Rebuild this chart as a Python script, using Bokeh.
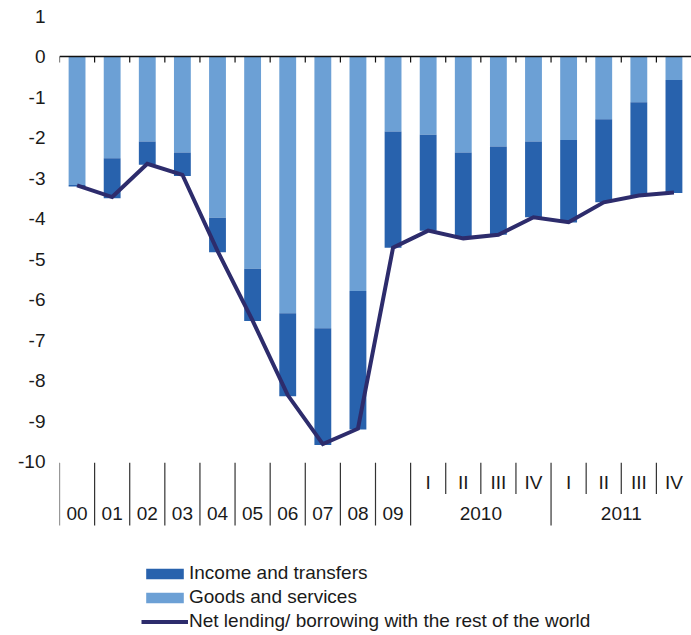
from bokeh.plotting import figure
from bokeh.models import (FactorRange, Range1d, FixedTicker, Span, Legend,
                          LegendItem, ColumnDataSource, PrintfTickFormatter)
from bokeh.embed import file_html
from bokeh.resources import INLINE
from bokeh.core.properties import value

# ---------------- data ----------------
years = ["00", "01", "02", "03", "04", "05", "06", "07", "08", "09"]
quarter_years = ["2010", "2011"]
quarters = ["I", "II", "III", "IV"]
periods = years + [f"{y} {q}" for y in quarter_years for q in quarters]

goods = [-3.17, -2.51, -2.10, -2.37, -3.98, -5.24, -6.34, -6.71, -5.79, -1.85,
         -1.93, -2.37, -2.22, -2.10, -2.06, -1.55, -1.13, -0.58]
income = [-0.04, -0.99, -0.57, -0.58, -0.85, -1.29, -2.05, -2.88, -3.42, -2.87,
          -2.37, -2.12, -2.18, -1.87, -2.04, -2.05, -2.30, -2.79]
net = [-3.18, -3.47, -2.65, -2.92, -4.80, -6.52, -8.36, -9.57, -9.19, -4.72,
       -4.30, -4.49, -4.40, -3.97, -4.09, -3.60, -3.43, -3.36]
y_ticks = list(range(-10, 2))

LIGHT = "#6CA0D5"
DARK = "#2862AD"
NAVY = "#2D2C6C"
FONT = "Liberation Sans"
FS = "19px"

# ---------------- figure ----------------
p = figure(x_range=FactorRange(*periods, range_padding=0),
           y_range=Range1d(-14.296, 1.383),
           width=691, height=635, output_backend="svg", toolbar_location=None,
           min_border_left=59, min_border_right=0, min_border_top=0,
           min_border_bottom=0)
p.outline_line_color = None
p.xgrid.visible = False
p.ygrid.visible = False
p.xaxis.visible = False

p.yaxis.ticker = FixedTicker(ticks=y_ticks)
p.yaxis.formatter = PrintfTickFormatter(format="%d")
p.yaxis.axis_line_color = None
p.yaxis.major_tick_line_color = None
p.yaxis.minor_tick_line_color = None
p.yaxis.major_tick_out = 0
p.yaxis.major_tick_in = 0
p.yaxis.major_label_standoff = 14
p.yaxis.major_label_text_font = FONT
p.yaxis.major_label_text_font_size = FS
p.yaxis.major_label_text_color = "#1a1a1a"

src = ColumnDataSource(dict(period=periods, goods=goods, income=income, net=net))
bars = p.vbar_stack(["goods", "income"], x="period", width=0.48, source=src,
                    color=[LIGHT, DARK], line_color=None)
ln = p.line("period", "net", source=src, line_width=4, color=NAVY,
            line_join="miter")

# zero axis line + ticks
p.add_layout(Span(location=0, dimension="width", line_color="#111111",
                  line_width=1.5))
bounds = [(f, -0.5) for f in periods]
p.segment(x0=bounds, y0=[0] * len(bounds), x1=bounds, y1=[-0.15] * len(bounds),
          line_color="#111111", line_width=1.2)

# category separators below the plot
n_years = len(years)
long_x, short_x = [], []
for i, f in enumerate(periods):
    if i <= n_years or (i - n_years) % len(quarters) == 0:
        long_x.append((f, -0.5))
    else:
        short_x.append((f, -0.5))
p.segment(x0=long_x, y0=[-10.03] * len(long_x), x1=long_x,
          y1=[-11.58] * len(long_x), line_color="#333333", line_width=1.2)
p.segment(x0=short_x, y0=[-10.03] * len(short_x), x1=short_x,
          y1=[-10.8] * len(short_x), line_color="#333333", line_width=1.2)

txt = dict(text_font=value(FONT), text_font_size=FS, text_align="center",
           text_baseline="middle", text_color="#1a1a1a")
p.text(x=years, y=[-11.28] * len(years), text=years, **txt)
q_periods = periods[n_years:]
p.text(x=q_periods, y=[-10.52] * len(q_periods),
       text=[q.split(" ")[1] for q in q_periods], **txt)
grp_x = [(f"{y} {quarters[1]}", 0.5) for y in quarter_years]
p.text(x=grp_x, y=[-11.28] * len(grp_x), text=quarter_years, **txt)

legend = Legend(items=[
    LegendItem(label="Income and transfers", renderers=[bars[1]]),
    LegendItem(label="Goods and services", renderers=[bars[0]]),
    LegendItem(label="Net lending/ borrowing with the rest of the world",
               renderers=[ln]),
], location=(82, 3), orientation="vertical", glyph_width=47, glyph_height=13,
    label_height=20, label_standoff=1, spacing=2, padding=0, margin=0,
    border_line_color=None, background_fill_alpha=0,
    label_text_font=FONT, label_text_font_size=FS,
    label_text_color="#1a1a1a")
p.add_layout(legend)

open("out.html", "w").write(file_html(p, INLINE))
